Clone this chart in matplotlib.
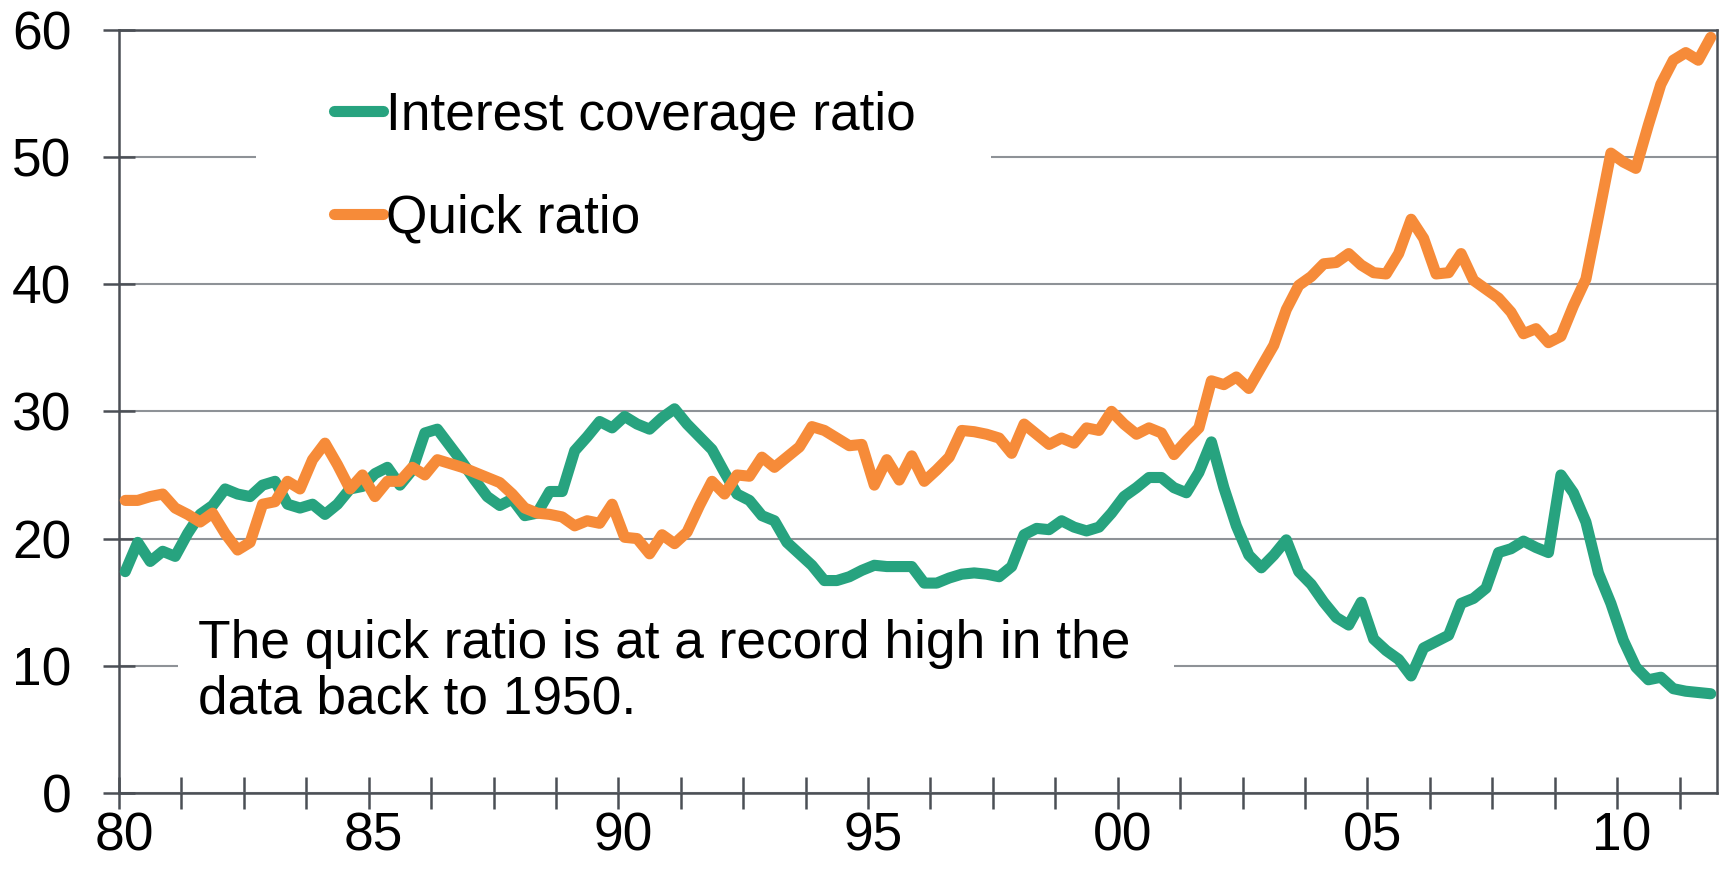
import numpy as np
import pandas as pd
import matplotlib
matplotlib.use('Agg')
import matplotlib.pyplot as plt
from matplotlib.lines import Line2D
from matplotlib.patches import Rectangle
from matplotlib.transforms import ScaledTranslation

plt.rcParams['font.family'] = ['Liberation Sans', 'DejaVu Sans']

# quarterly data, 1980Q1 - 2011Q4
quarters = pd.period_range('1980Q1', '2011Q4', freq='Q')

interest_coverage = [
    17.4, 19.7, 18.2, 19.0, 18.6, 20.4, 21.9, 22.6, 23.9, 23.5,
    23.3, 24.2, 24.5, 22.7, 22.4, 22.7, 21.9, 22.7, 23.9, 24.1,
    25.1, 25.6, 24.2, 25.4, 28.3, 28.6, 27.3, 26.0, 24.6, 23.3,
    22.6, 23.1, 21.8, 22.0, 23.7, 23.7, 26.9, 28.0, 29.2, 28.7,
    29.6, 29.0, 28.6, 29.5, 30.2, 29.0, 28.0, 27.0, 25.2, 23.5,
    23.0, 21.8, 21.4, 19.7, 18.8, 17.9, 16.7, 16.7, 17.0, 17.5,
    17.9, 17.8, 17.8, 17.8, 16.5, 16.5, 16.9, 17.2, 17.3, 17.2,
    17.0, 17.8, 20.3, 20.8, 20.7, 21.4, 20.9, 20.6, 20.9, 22.0,
    23.3, 24.0, 24.8, 24.8, 24.0, 23.6, 25.2, 27.6, 24.0, 21.0,
    18.7, 17.7, 18.7, 19.9, 17.4, 16.4, 15.0, 13.8, 13.2, 15.0,
    12.1, 11.2, 10.5, 9.2, 11.4, 11.9, 12.4, 14.9, 15.3, 16.1,
    18.9, 19.2, 19.8, 19.3, 18.9, 25.0, 23.6, 21.3, 17.3, 14.9,
    12.0, 9.9, 8.9, 9.1, 8.2, 8.0, 7.9, 7.8]

quick_ratio = [
    23.0, 23.0, 23.3, 23.5, 22.4, 21.9, 21.3, 22.0, 20.4, 19.1,
    19.7, 22.7, 22.9, 24.5, 23.9, 26.2, 27.5, 25.8, 23.9, 25.0,
    23.3, 24.5, 24.5, 25.6, 25.0, 26.2, 25.9, 25.6, 25.2, 24.8,
    24.4, 23.5, 22.4, 22.0, 21.9, 21.7, 21.0, 21.4, 21.2, 22.7,
    20.1, 20.0, 18.8, 20.3, 19.6, 20.5, 22.6, 24.5, 23.5, 25.0,
    24.9, 26.4, 25.6, 26.4, 27.2, 28.8, 28.5, 27.9, 27.3, 27.4,
    24.2, 26.2, 24.6, 26.5, 24.5, 25.4, 26.4, 28.5, 28.4, 28.2,
    27.9, 26.7, 29.0, 28.2, 27.4, 27.9, 27.5, 28.7, 28.5, 30.0,
    29.0, 28.2, 28.7, 28.3, 26.6, 27.7, 28.7, 32.4, 32.1, 32.7,
    31.8, 33.5, 35.2, 38.0, 39.9, 40.6, 41.6, 41.7, 42.4, 41.5,
    40.9, 40.8, 42.4, 45.1, 43.6, 40.8, 40.9, 42.4, 40.3, 39.6,
    38.9, 37.8, 36.1, 36.5, 35.4, 35.9, 38.3, 40.4, 45.3, 50.3,
    49.6, 49.1, 52.5, 55.7, 57.6, 58.2, 57.6, 59.4]

series_names = ['Interest coverage ratio', 'Quick ratio']
series_colors = ['#27a37f', '#f68b39']

tick_years = [1980, 1985, 1990, 1995, 2000, 2005, 2010]
tick_labels = ['80', '85', '90', '95', '00', '05', '10']
y_ticks = [0, 10, 20, 30, 40, 50, 60]

note = 'The quick ratio is at a record high in the\ndata back to 1950.'

# each quarter sits in the middle of its slot
x = quarters.year + (quarters.quarter - 0.5) / 4.0

dark = '#4b4f55'
grid_col = '#8e9297'
fs = 38.3
lw = 8

fig = plt.figure(figsize=(17.23, 8.82), dpi=100)
ax = fig.add_axes([119/1723, 1 - 793/882, 1598/1723, 763.3/882])

for vals, name, col in zip([interest_coverage, quick_ratio], series_names, series_colors):
    ax.plot(x, vals, color=col, lw=lw, solid_joinstyle='round',
            solid_capstyle='round', label=name, zorder=3)

ax.set_xlim(1980, 2012)
ax.set_ylim(0, 60)

# ticks every 5 quarters, labels every 5 years
all_ticks = [1980 + 1.25 * k for k in range(26)]
ax.set_xticks(all_ticks)
ax.set_xticklabels([tick_labels[tick_years.index(int(t))] if t in tick_years else ''
                    for t in all_ticks])
ax.set_yticks(y_ticks)

ax.tick_params(axis='both', direction='inout', length=22.5, width=1.8,
               color=dark, labelsize=fs, labelcolor='black')
ax.tick_params(axis='x', pad=2)
ax.tick_params(axis='y', pad=23)

off = ScaledTranslation(5/100, 0, fig.dpi_scale_trans)
for lab in ax.get_xticklabels():
    lab.set_transform(lab.get_transform() + off)

for sp in ax.spines.values():
    sp.set_color(dark)
    sp.set_linewidth(1.8)

ax.set_axisbelow(True)
ax.yaxis.grid(True, color=grid_col, lw=1.5)

# white boxes behind legend and note
ax.add_patch(Rectangle((0.0857, 0.705), 0.46, 0.249, transform=ax.transAxes,
                       facecolor='white', edgecolor='none', zorder=1))
ax.add_patch(Rectangle((0.0369, 0.05), 0.623, 0.215, transform=ax.transAxes,
                       facecolor='white', edgecolor='none', zorder=1))

handles = [Line2D([], [], color=c, lw=lw, solid_capstyle='round') for c in series_colors]
ax.legend(handles, series_names, loc='upper left', bbox_to_anchor=(0.1345, 0.92),
          frameon=False, fontsize=fs, handlelength=0.93, handletextpad=0.05,
          labelspacing=1.0, borderpad=0, borderaxespad=0)

ax.text(0.0494, 0.1048, note, transform=ax.transAxes, fontsize=fs,
        ha='left', va='baseline', linespacing=1.14, zorder=4)

fig.savefig('out.png', dpi=100)
